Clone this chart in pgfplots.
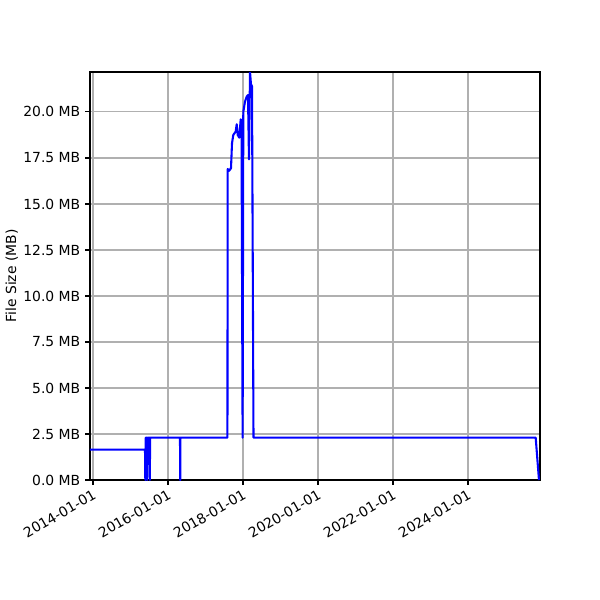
\documentclass[border=0pt]{standalone}
\usepackage{fontspec}
\setmainfont{DejaVu Sans}
\usepackage{pgfplots}
\pgfplotsset{compat=1.18}
\begin{document}
\begin{tikzpicture}
\useasboundingbox (-64.8pt,-86.4pt) rectangle (367.2pt,345.6pt);
\begin{axis}[
  at={(0,0)}, anchor=south west,
  scale only axis, width=324pt, height=293.76pt,
  xmin=2013.92, xmax=2025.92, ymin=0, ymax=22.17,
  xtick={2014,2016,2018,2020,2022,2024},
  xticklabels={2014-01-01,2016-01-01,2018-01-01,2020-01-01,2022-01-01,2024-01-01},
  x tick label style={rotate=30, anchor=north east, font=\fontsize{10}{12}\selectfont, inner sep=2pt},
  ytick={0,2.5,5,7.5,10,12.5,15,17.5,20},
  yticklabel={\pgfmathprintnumber[fixed,fixed zerofill,precision=1]{\tick}~MB},
  y tick label style={font=\fontsize{10}{12}\selectfont},
  /pgf/number format/assume math mode=true,
  ylabel={File Size (MB)},
  ylabel style={font=\fontsize{10}{12}\selectfont},
  ylabel shift=-3pt,
  grid=major,
  grid style={color=black!31, line width=0.8pt},
  axis line style={line width=0.8pt},
  tick style={black, line width=0.8pt},
  major tick length=3.5pt,
  tick align=outside,
  tick pos=left,
  clip=true,
]
\addplot[color=blue, line width=1.5pt, mark=none, line join=round] coordinates {
(2013.92,1.65)
(2015.387,1.65)
(2015.395,0)
(2015.405,2.3)
(2015.435,2.3)
(2015.442,0)
(2015.452,2.3)
(2015.507,2.3)
(2015.515,0)
(2015.523,2.3)
(2016.32,2.3)
(2016.326,0)
(2016.332,2.3)
(2017.585,2.3)
(2017.592,16.9)
(2017.627,16.8)
(2017.68,16.94)
(2017.707,18.3)
(2017.741,18.75)
(2017.805,18.93)
(2017.832,19.33)
(2017.859,18.75)
(2017.901,18.6)
(2017.939,19.6)
(2017.96,19.5)
(2017.99,2.3)
(2018.008,20.0)
(2018.053,20.56)
(2018.099,20.83)
(2018.133,20.92)
(2018.16,17.43)
(2018.187,22.17)
(2018.213,21.5)
(2018.24,21.4)
(2018.28,2.3)
(2025.805,2.3)
(2025.893,0)
};
\end{axis}
\end{tikzpicture}
\end{document}
